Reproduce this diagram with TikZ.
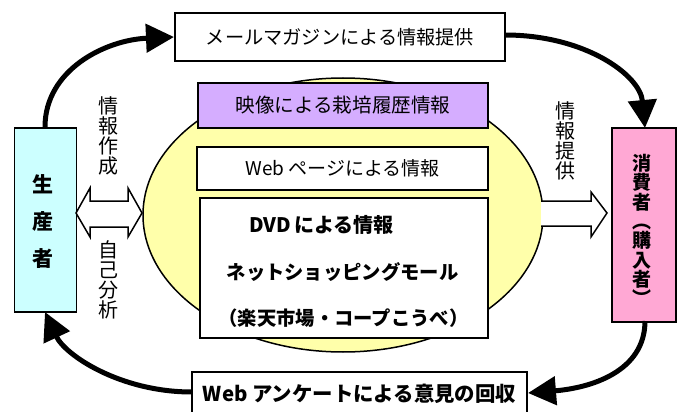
\documentclass[tikz,border=0pt]{standalone}
\usepackage{fontspec}
\setmainfont{Noto Sans CJK JP}
\usetikzlibrary{arrows.meta,shapes.geometric}
\definecolor{cyanfill}{HTML}{CCFFFF}
\definecolor{pinkfill}{HTML}{FFA8D4}
\definecolor{yellowfill}{HTML}{FFFFAA}
\definecolor{purplefill}{HTML}{D5ADFF}
\begin{document}
\begin{tikzpicture}[x=1pt,y=-1pt,
  box/.style={draw=black, line width=1.5pt, inner sep=0pt, fill=white},
  flow/.style={line width=5pt, -{Triangle[length=28pt,width=28pt]}},
  blockarrow/.style={draw=black, line width=1.5pt, fill=white, line join=miter},
  boldtext/.style={inner sep=0pt, font=\fontsize{19.3}{20}\selectfont\bfseries},
  vlabel/.style={inner sep=0pt, align=center, font=\fontsize{20}{19.8}\selectfont}
]
\useasboundingbox (0,0) rectangle (678,412);

% ellipse
\node[draw=black, line width=1.5pt, fill=yellowfill, ellipse, minimum width=400pt, minimum height=274pt, inner sep=0pt] (ell) at (343,215) {};

% boxes
\node[box, minimum width=330pt, minimum height=48pt, font=\fontsize{19.2}{20}\selectfont] (mail) at (340,37) {メールマガジンによる情報提供};
\node[box, fill=purplefill, minimum width=290pt, minimum height=45pt, font=\fontsize{19.6}{20}\selectfont] (video) at (343,105.5) {映像による栽培履歴情報};
\node[box, minimum width=291pt, minimum height=43pt, font=\fontsize{19}{20}\selectfont] (web) at (342.5,168.5) {Web ページによる情報};
\node[box, minimum width=288pt, minimum height=140pt] (big) at (344,268) {};
\node[inner sep=0pt, font=\fontsize{20}{20}\selectfont\bfseries] (dvd) at (321.5,225) {DVD\hspace{3pt}による情報};
\node[boldtext] (net) at (342.5,272) {ネットショッピングモール};
\node[boldtext] (rakuten) at (343.5,318) {（楽天市場・コープこうべ）};
\node[box, minimum width=335pt, minimum height=44pt, font=\fontsize{20.4}{20}\selectfont\bfseries] (survey) at (359.5,394) {Web アンケートによる意見の回収};

\node[box, fill=cyanfill, minimum width=62pt, minimum height=184pt] (prod) at (45.5,220) {};
\node[inner sep=0pt, align=center, font=\fontsize{21}{37}\selectfont\bfseries] (prodtext) at (43,222) {生\\産\\者};
\node[box, fill=pinkfill, minimum width=64pt, minimum height=194pt] (cons) at (644,225) {};
\node[inner sep=0pt, align=center, font=\fontsize{19}{19.3}\selectfont\bfseries] (constext) at (642,230) {消\\費\\者\\︵\\購\\入\\者\\︶};

% vertical labels
\node[vlabel] (lab1) at (108,136) {情\\報\\作\\成};
\node[vlabel] (lab2) at (108,280) {自\\己\\分\\析};
\node[vlabel] (lab3) at (565,141) {情\\報\\提\\供};

% block arrows
\draw[blockarrow] (76,213) -- (90,188) -- (90,201) -- (128,201) -- (128,188) -- (142,213) -- (128,237) -- (128,227) -- (90,227) -- (90,237) -- cycle;
\fill[white] (541,201) rectangle (592,226);
\draw[blockarrow] (541,201) -- (591,201) -- (591,192) -- (607,213) -- (591,237) -- (591,226) -- (541,226);

% flow arrows
\coordinate (a1s) at (45,127);
\coordinate (a1e) at (174,37);
\draw[flow] (a1s) .. controls (45,70) and (105,40) .. (a1e);
\coordinate (a2s) at (505,35);
\coordinate (a2e) at (645,128);
\draw[flow] (a2s) .. controls (585,35) and (640,75) .. (a2e);
\coordinate (a3s) at (645,321);
\coordinate (a3e) at (528,393);
\draw[flow] (a3s) .. controls (645,372) and (590,388) .. (a3e);
\coordinate (a4s) at (192,392);
\coordinate (a4e) at (45,312);
\draw[flow] (a4s) .. controls (120,392) and (65,355) .. (a4e);
\end{tikzpicture}
\end{document}
